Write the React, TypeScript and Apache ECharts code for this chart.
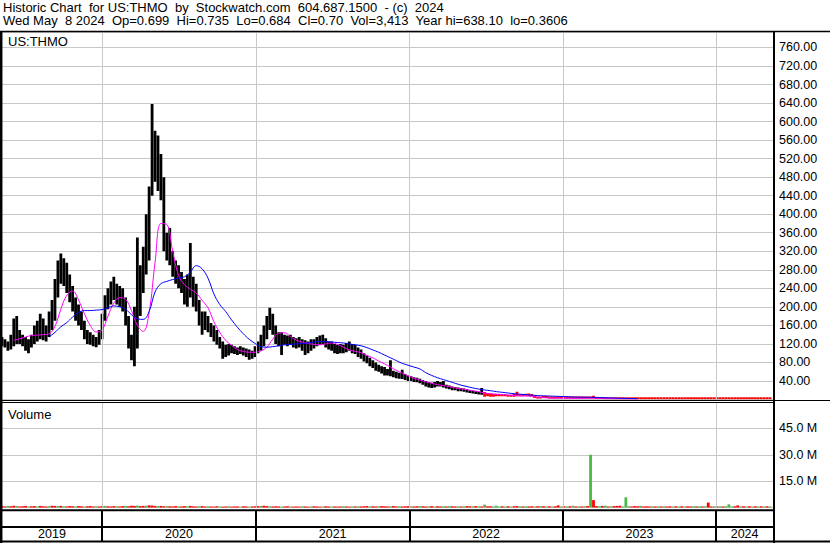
import React, { useEffect, useRef } from "react";
import * as echarts from "echarts";

// ---------- DATA ----------
const START = Date.UTC(2019, 4, 8);
const END = Date.UTC(2024, 4, 15);
const WEEK = 7 * 86400000;

const yearLabels = ["2019", "2020", "2021", "2022", "2023", "2024"];
const priceTickMax = 760;

// weekly highs / lows, week 0 = 2019-05-08
const highs = [
  135, 130, 125, 140, 175, 180, 150, 140, 135, 130,
  140, 160, 170, 185, 175, 160, 190, 215, 260, 300,
  315, 305, 295, 270, 245, 220, 205, 190, 170, 150,
  145, 140, 135, 150, 185, 225, 240, 255, 265, 250,
  245, 240, 220, 180, 140, 200, 350, 290, 330, 400,
  460, 638, 580, 570, 530, 480, 360, 370, 320, 300,
  290, 275, 260, 270, 338, 265, 250, 215, 190, 190,
  180, 165, 160, 150, 135, 125, 118, 120, 118, 115,
  112, 115, 112, 110, 108, 105, 115, 125, 140, 160,
  180, 198, 185, 160, 145, 145, 140, 138, 140, 135,
  132, 135, 130, 128, 125, 130, 130, 135, 138, 140,
  132, 125, 125, 120, 118, 120, 118, 122, 125, 120,
  118, 112, 108, 100, 95, 90, 85, 80, 75, 72,
  70, 66, 85, 62, 60, 58, 64, 55, 52, 50,
  48, 47, 45, 42, 40, 38, 36, 38, 40, 38,
  40, 32, 30, 28, 27, 26, 25, 24, 22, 20,
  19, 18, 17, 25, 16, 14, 13, 12, 12, 12,
  11, 11, 10, 10, 12, 17, 11, 12, 12, 13,
  12, 9, 6, 5, 6, 6, 5, 5, 5, 5,
  5, 5, 4, 4, 4, 4, 4, 4, 5, 5,
  6, 8, 3, 2.5, 2.5, 2, 2, 2, 2, 2,
  1.8, 1.8, 2, 1.8, 1.6, 1.6, 1.5, 1.5, 1.5, 1.4,
  1.4, 1.4, 1.3, 1.4, 1.3, 1.3, 1.4, 1.3, 1.2, 1.3,
  1.2, 1.2, 1.3, 1.2, 1.2, 1.1, 1.2, 1.2, 1.1, 1.2,
  1.3, 1.2, 1.1, 1.2, 1.1, 1.1, 1.2, 1.3, 1.1, 1.1,
  1.1, 1.0, 1.1, 1.0, 1.0, 1.1, 1.0, 1.0, 1.0, 0.9, 1.0, 0.9,
];
const lows = [
  115, 112, 105, 108, 115, 120, 120, 115, 105, 100,
  112, 120, 125, 130, 128, 125, 135, 150, 170, 220,
  250, 245, 230, 210, 190, 170, 160, 150, 130, 120,
  118, 115, 113, 118, 130, 170, 195, 205, 215, 205,
  200, 190, 160, 110, 85, 72, 110, 180, 230, 270,
  300, 440, 470, 450, 430, 320, 300, 290, 265, 250,
  240, 230, 205, 200, 220, 200, 190, 160, 140, 150,
  145, 135, 125, 118, 110, 88, 92, 95, 100, 98,
  96, 98, 95, 92, 86, 88, 92, 100, 105, 115,
  130, 150, 140, 120, 115, 96, 118, 115, 118, 112,
  110, 112, 105, 96, 100, 105, 110, 115, 118, 120,
  112, 108, 105, 100, 98, 100, 100, 102, 105, 100,
  98, 92, 88, 82, 78, 72, 68, 62, 60, 56,
  52, 52, 50, 48, 46, 45, 44, 42, 40, 40,
  38, 37, 35, 32, 28, 26, 25, 26, 28, 28,
  26, 24, 22, 20, 20, 18, 18, 17, 15, 14,
  13, 12, 11, 10, 6, 7, 6, 6, 7, 7,
  7, 7, 6, 6, 6, 7, 7, 7, 8, 8,
  7, 3, 2, 2, 3, 3, 2, 2, 2, 2,
  2, 2, 2, 2, 2, 2, 2, 2, 2, 2,
  2, 2, 1, 1, 1, 0.8, 0.8, 0.8, 0.8, 0.8,
  0.7, 0.7, 0.8, 0.7, 0.6, 0.6, 0.6, 0.6, 0.6, 0.5,
  0.5, 0.5, 0.5, 0.5, 0.5, 0.5, 0.5, 0.5, 0.5, 0.5,
  0.5, 0.5, 0.5, 0.5, 0.5, 0.4, 0.5, 0.5, 0.4, 0.5,
  0.5, 0.4, 0.4, 0.5, 0.4, 0.4, 0.5, 0.5, 0.4, 0.4,
  0.4, 0.4, 0.4, 0.4, 0.4, 0.4, 0.4, 0.4, 0.4, 0.4, 0.4, 0.4,
];
const redBarsFrom = 164;

// moving averages, sampled every 2 weeks
const MA_STEP = 2;
const maShortStart = 4;
const maShort = [
  128, 131, 135, 138, 139, 140, 142, 158, 195, 225,
  234, 215, 185, 160, 146, 150, 180, 208, 220, 216,
  192, 160, 147, 188, 295, 380, 378, 320, 268, 248,
  238, 230, 214, 198, 168, 145, 128, 117, 108, 104,
  102, 102, 105, 113, 130, 143, 144, 136, 128, 124,
  121, 119, 118, 120, 122, 119, 113, 107, 104, 101,
  95, 90, 83, 77, 70, 63, 57, 51, 46, 42,
  38, 35, 32, 30, 28, 25, 23, 21, 19, 17,
  14, 12.5, 11.5, 10.5, 9.5, 8.5, 8, 7.5, 6.5, 5,
  4, 3.2, 3, 2.8, 2.6, 2.5, 2.5, 2.6, 2.8, 2.8,
  2.5, 2.2, 2, 1.9, 1.8, 1.7, 1.6,
];
const maLongStart = 16;
const maLong = [
  135, 145, 157, 166, 178, 188, 192, 192, 193, 194,
  198, 202, 200, 195, 183, 174, 173, 190, 232, 250,
  255, 259, 262, 265, 275, 289, 282, 262, 228, 205,
  190, 172, 156, 142, 130, 121, 114, 113, 114, 116,
  118, 119, 120, 121, 122, 124, 125, 125, 124, 123,
  122, 120, 118, 116, 112, 107, 102, 96, 90, 84,
  78, 74, 70, 66, 58, 52, 47, 43, 39, 35,
  31, 28, 25, 22.5, 20.5, 19, 17, 15.5, 14, 12.5,
  11.5, 10.5, 9.5, 8.5, 8, 7.5, 7, 6.5, 6, 5.5,
  5.2, 5, 4.8, 4.5, 4, 3.6, 3.2, 2.8, 2.4, 2.1,
  1.9,
];

// weekly volume in millions, and direction (g = up, r = down)
const volumeM = [
  0.8, 0.6, 0.9, 0.7, 1.0, 0.8, 0.6, 0.7, 0.9, 0.6, 0.7, 0.8, 0.6, 0.9, 0.7, 0.6, 0.8, 1.0, 0.9, 0.8,
  0.9, 0.7, 0.6, 0.8, 0.7, 0.6, 0.8, 0.7, 0.6, 0.7, 0.8, 0.6, 0.7, 0.6, 0.8, 0.9, 0.7, 0.6, 0.8, 0.7,
  0.6, 0.8, 0.9, 0.7, 1.0, 0.9, 1.1, 0.8, 0.9, 1.0, 1.2, 1.1, 0.9, 0.8, 0.9, 0.7, 0.8, 0.7, 0.6, 0.8,
  0.7, 0.6, 0.8, 0.7, 0.9, 0.7, 0.6, 0.7, 0.8, 0.6, 0.7, 0.6, 0.5, 0.7, 0.6, 0.5, 0.6, 0.7, 0.5, 0.6,
  0.6, 0.5, 0.7, 0.6, 0.5, 0.6, 0.7, 0.8, 0.9, 1.0, 0.8, 0.7, 0.6, 0.7, 0.6, 0.5, 0.6, 0.7, 0.6, 0.5,
  0.6, 0.5, 0.7, 0.6, 0.5, 0.6, 0.7, 0.6, 0.5, 0.6, 0.7, 0.6, 0.5, 0.6, 0.5, 0.6, 0.7, 0.6, 0.5, 0.6,
  0.6, 0.7, 0.6, 0.7, 0.8, 0.6, 0.7, 0.6, 0.7, 0.8, 0.7, 0.6, 0.7, 0.8, 0.6, 0.7, 0.6, 0.7, 0.8, 0.7,
  0.6, 0.7, 0.8, 0.7, 0.6, 0.7, 0.8, 0.6, 0.7, 0.6, 0.7, 0.6, 0.8, 0.7, 0.6, 0.7, 0.6, 0.7, 0.8, 0.7,
  0.7, 0.8, 0.7, 0.6, 1.6, 0.7, 0.7, 0.6, 1.0, 0.6, 0.7, 0.6, 0.7, 0.6, 0.7, 0.8, 0.7, 0.6, 0.7, 0.6,
  0.7, 0.6, 0.7, 0.8, 0.7, 0.6, 0.7, 0.6, 0.7, 1.2, 0.6, 0.7, 0.6, 0.7, 1.0, 0.6, 0.7, 0.6, 0.7, 0.8,
  30, 4.2, 0.8, 0.7, 0.9, 1.0, 0.6, 0.7, 0.8, 0.9, 1.0, 0.6, 5.8, 0.7, 0.6, 0.8, 0.7, 0.9, 0.6, 0.7,
  0.6, 0.7, 0.6, 0.7, 0.6, 0.7, 0.6, 0.7, 0.6, 0.7, 0.6, 0.7, 0.6, 0.7, 0.6, 0.7, 0.6, 0.7, 0.6, 0.7,
  2.8, 0.6, 0.7, 0.6, 0.7, 0.6, 0.7, 1.8, 0.6, 0.7, 1.2, 0.6, 0.7, 0.6, 0.7, 0.6, 0.7, 0.6, 0.7, 0.6, 0.7, 0.6,
];
const volumeDir =
  "rrgrrgrrrgrrgrrrgrrg" +
  "rgrrrgrrgrrrgrrgrrrg" +
  "rrgrrrgrrgrrrgrrgrrr" +
  "grrgrrrgrrgrrrgrrgrr" +
  "rgrrgrrrgrrgrrrgrrgr" +
  "rrgrrgrrrgrrgrrrgrrg" +
  "rgrrrgrrgrrrgrrgrrrg" +
  "rrgrrgrgrrgrgrrgrgrr" +
  "grgrgrrgggrgrgrrgrgr" +
  "rgrgrgrgrrgrgrgrgrgr" +
  "grrgrgrgrrrgggrrrgrr" +
  "rgrgrgrrgrgrgrrgrgrg" +
  "rrgrgrgggrrgrgrgrgrgrg";

const headerLine1 = "Historic Chart  for US:THMO  by  Stockwatch.com  604.687.1500  - (c)  2024";
const headerLine2 =
  "Wed May  8 2024  Op=0.699  Hi=0.735  Lo=0.684  Cl=0.70  Vol=3,413  Year hi=638.10  lo=0.3606";
const symbolLabel = "US:THMO";
const volumeLabel = "Volume";

// ---------- STYLE ----------
const FONT = "'Liberation Sans', Arial, sans-serif";
const GRID_COLOR = "#c8c8c8";
const GREEN = "#4cb84c";
const RED = "#ff0000";

const weekTime = (i: number) => START + i * WEEK;
const nb = (s: string) => s.replace(/ {2}/g, "\u00a0 ");

function buildOption() {
  const priceData = highs.map((h, i) => [weekTime(i), h, lows[i]]);
  const volData = volumeM.map((v, i) => ({
    value: [weekTime(i), v * 1e6],
    itemStyle: { color: volumeDir[i] === "g" ? GREEN : RED },
  }));
  const maShortData = maShort.map((v, i) => [weekTime(maShortStart + i * MA_STEP), v]);
  const maLongData = maLong.map((v, i) => [weekTime(maLongStart + i * MA_STEP), v]);
  const yearBounds = yearLabels.slice(1).map((y) => Date.UTC(+y, 0, 1));
  const yearAreas = yearLabels.map((y) => [
    { name: y, xAxis: Math.max(Date.UTC(+y, 0, 1), START), yAxis: 0 },
    { xAxis: Math.min(Date.UTC(+y + 1, 0, 1), END), yAxis: 1 },
  ]);

  const vLines = (color: string, width: number) => ({
    silent: true,
    symbol: ["none", "none"],
    label: { show: false },
    lineStyle: { color, width, type: "solid" },
    emphasis: { disabled: true },
    data: yearBounds.map((t) => ({ xAxis: t })),
  });

  const xAxisBase = { type: "value", min: START, max: END, show: false };

  const line = (x1: number, y1: number, x2: number, y2: number, w: number) => ({
    type: "line",
    shape: { x1, y1, x2, y2 },
    style: { stroke: "#000", lineWidth: w },
    z: 100,
    silent: true,
  });

  const headText = (text: string, x: number, y: number) => ({
    type: "text",
    x,
    y,
    silent: true,
    z: 100,
    style: {
      text,
      fill: "#000",
      fontSize: 13,
      lineHeight: 13,
      fontFamily: FONT,
      verticalAlign: "middle",
    },
  });

  return {
    animation: false,
    backgroundColor: "#fff",
    textStyle: { fontFamily: FONT },
    grid: [
      { left: 2, right: 57, top: 32, height: 367.5 },
      { left: 2, right: 57, top: 402, height: 105.5 },
      { left: 2, right: 57, top: 511, height: 31 },
    ],
    xAxis: [
      { ...xAxisBase, gridIndex: 0 },
      { ...xAxisBase, gridIndex: 1 },
      { ...xAxisBase, gridIndex: 2 },
    ],
    yAxis: [
      {
        type: "value",
        gridIndex: 0,
        position: "right",
        min: 0,
        max: 793.4,
        interval: 40,
        axisLine: { show: false },
        axisTick: { show: false },
        splitLine: { lineStyle: { color: GRID_COLOR, width: 1 } },
        axisLabel: {
          margin: 6,
          color: "#000",
          fontSize: 12.5,
          fontFamily: FONT,
          formatter: (v: number) => (v <= 0 || v > priceTickMax ? "" : v.toFixed(2)),
        },
      },
      {
        type: "value",
        gridIndex: 1,
        position: "right",
        min: 0,
        max: 60e6,
        interval: 15e6,
        axisLine: { show: false },
        axisTick: { show: false },
        splitLine: { lineStyle: { color: GRID_COLOR, width: 1 } },
        axisLabel: {
          margin: 6,
          color: "#000",
          fontSize: 12.5,
          fontFamily: FONT,
          formatter: (v: number) => (v <= 0 || v >= 60e6 ? "" : (v / 1e6).toFixed(1) + " M"),
        },
      },
      { type: "value", gridIndex: 2, min: 0, max: 2, show: false },
    ],
    series: [
      {
        type: "line",
        xAxisIndex: 0,
        yAxisIndex: 0,
        data: [],
        z: 1,
        markLine: vLines(GRID_COLOR, 1),
      },
      {
        type: "line",
        xAxisIndex: 1,
        yAxisIndex: 1,
        data: [],
        z: 1,
        markLine: vLines(GRID_COLOR, 1),
      },
      {
        type: "custom",
        xAxisIndex: 0,
        yAxisIndex: 0,
        z: 3,
        clip: true,
        encode: { x: 0, y: [1, 2] },
        data: priceData,
        renderItem: (params: any, api: any) => {
          const t = api.value(0);
          const p1 = api.coord([t, api.value(1)]);
          const p2 = api.coord([t, api.value(2)]);
          let y1 = p1[1];
          const y2 = p2[1];
          if (y2 - y1 < 2) y1 = y2 - 2;
          return {
            type: "line",
            shape: { x1: p1[0], y1, x2: p2[0], y2 },
            style: {
              stroke: params.dataIndex >= redBarsFrom ? RED : "#000",
              lineWidth: 2.8,
            },
          };
        },
      },
      {
        type: "line",
        xAxisIndex: 0,
        yAxisIndex: 0,
        z: 4,
        data: maShortData,
        showSymbol: false,
        smooth: 0.4,
        lineStyle: { color: "#ff00ff", width: 1 },
        silent: true,
      },
      {
        type: "line",
        xAxisIndex: 0,
        yAxisIndex: 0,
        z: 5,
        data: maLongData,
        showSymbol: false,
        smooth: 0.4,
        lineStyle: { color: "#0000ff", width: 1 },
        silent: true,
      },
      {
        type: "bar",
        xAxisIndex: 1,
        yAxisIndex: 1,
        z: 3,
        barWidth: 2.8,
        data: volData,
        silent: true,
      },
      {
        type: "line",
        xAxisIndex: 2,
        yAxisIndex: 2,
        data: [],
        z: 2,
        markLine: vLines("#000", 2),
        markArea: {
          silent: true,
          itemStyle: { color: "rgba(0,0,0,0)" },
          label: {
            show: true,
            position: "inside",
            color: "#000",
            fontSize: 12.5,
            fontFamily: FONT,
          },
          data: yearAreas,
        },
      },
    ],
    graphic: [
      headText(nb(headerLine1), 3, 7),
      headText(nb(headerLine2), 3, 20.5),
      headText(symbolLabel, 8, 41),
      headText(volumeLabel, 8, 414),
      line(0, 31.5, 830, 31.5, 1.5),
      line(1.2, 31, 1.2, 543, 2.5),
      line(774, 31, 774, 543, 2),
      line(0, 400.5, 830, 400.5, 1),
      line(0, 402.5, 774, 402.5, 1),
      line(0, 510.3, 774, 510.3, 2),
      line(0, 527, 774, 527, 2),
      line(0, 541.5, 830, 541.5, 2),
    ],
  };
}

export default function App() {
  const ref = useRef<HTMLDivElement>(null);
  useEffect(() => {
    if (!ref.current) return;
    const chart = echarts.init(ref.current, null, { renderer: "svg" });
    chart.setOption(buildOption() as any);
    return () => chart.dispose();
  }, []);
  return (
    <div
      ref={ref}
      style={{ position: "absolute", left: 0, top: 0, width: 830, height: 543 }}
    />
  );
}
